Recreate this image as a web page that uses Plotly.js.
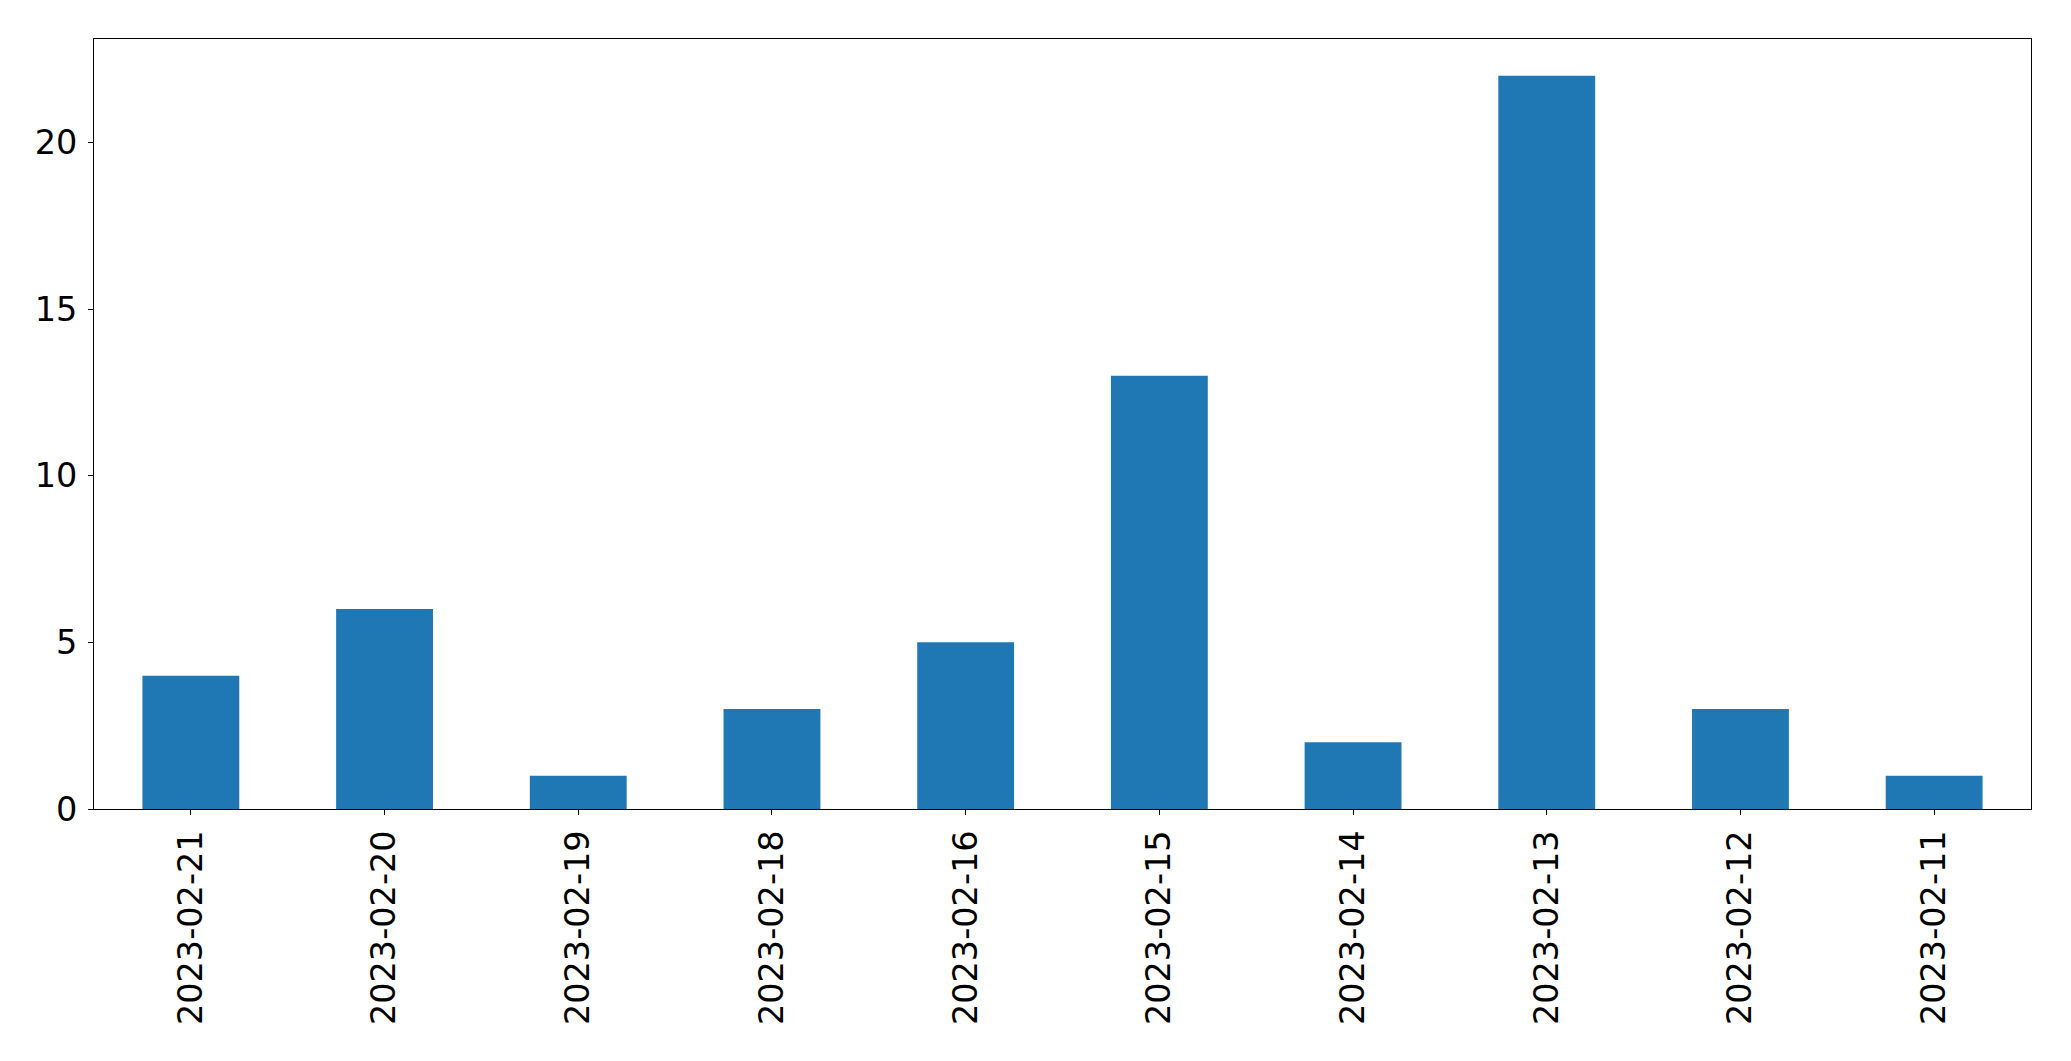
<!DOCTYPE html>
<html>
<head>
<meta charset="utf-8">
<script src="https://cdn.plot.ly/plotly-3.0.1.min.js"></script>
<style>html,body{margin:0;padding:0;background:#fff;}#chart{width:2071px;height:1061px;}</style>
</head>
<body>
<div id="chart"></div>
<script>
const categories = ["2023-02-21","2023-02-20","2023-02-19","2023-02-18","2023-02-16","2023-02-15","2023-02-14","2023-02-13","2023-02-12","2023-02-11"];
const counts = [4, 6, 1, 3, 5, 13, 2, 22, 3, 1];
const yTicks = [0, 5, 10, 15, 20];

const font = {family: "DejaVu Sans", size: 33.5, color: "#000"};
Plotly.newPlot("chart", [{
  type: "bar",
  x: categories,
  y: counts,
  width: 0.5,
  marker: {color: "#1f77b4", line: {width: 0}},
  hoverinfo: "x+y"
}], {
  width: 2071, height: 1061,
  margin: {l: 94, r: 40, t: 39, b: 252, pad: 0},
  paper_bgcolor: "#fff", plot_bgcolor: "#fff",
  showlegend: false,
  font: font,
  xaxis: {
    type: "category",
    range: [-0.5, 9.5],
    tickangle: -90,
    ticks: "outside", ticklen: 5, tickwidth: 1, tickcolor: "#000",
    showline: true, linecolor: "#000", linewidth: 1, mirror: true,
    showgrid: false, zeroline: false,
    tickfont: font,
    ticklabelstandoff: 2
  },
  yaxis: {
    range: [0, 23.1],
    tickvals: yTicks,
    ticktext: yTicks.map(String),
    ticks: "outside", ticklen: 5, tickwidth: 1, tickcolor: "#000",
    showline: true, linecolor: "#000", linewidth: 1, mirror: true,
    showgrid: false, zeroline: false,
    tickfont: font,
    ticklabelstandoff: 4
  }
}, {staticPlot: true});
</script>
</body>
</html>
